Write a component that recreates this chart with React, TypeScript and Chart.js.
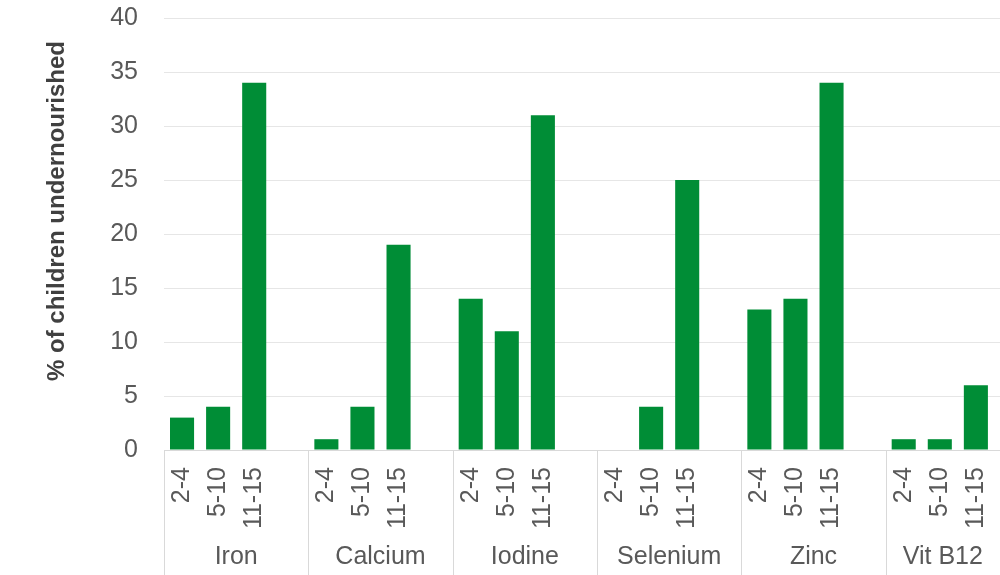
import React, { useEffect, useRef } from "react";
import { Chart, registerables } from "chart.js";

Chart.register(...registerables);

const nutrients = ["Iron", "Calcium", "Iodine", "Selenium", "Zinc", "Vit B12"];
const ageGroups = ["2-4", "5-10", "11-15"];
const iron = [3, 4, 34];
const calcium = [1, 4, 19];
const iodine = [14, 11, 31];
const selenium = [0, 4, 25];
const zinc = [13, 14, 34];
const vitB12 = [1, 1, 6];
const seriesByNutrient = [iron, calcium, iodine, selenium, zinc, vitB12];
const yAxisTitle = "% of children undernourished";
const yMin = 0;
const yMax = 40;
const yStep = 5;

const FONT = '"Liberation Sans", Arial, Helvetica, sans-serif';
const VIEW_W = 1000;
const SLOTS_PER_GROUP = ageGroups.length + 1;

const labels: string[] = [];
const values: (number | null)[] = [];
nutrients.forEach((_, g) => {
  ageGroups.forEach((a, i) => {
    labels.push(a);
    values.push(seriesByNutrient[g][i]);
  });
  labels.push("");
  values.push(null);
});

const groupPlugin = {
  id: "groupPlugin",
  afterDraw(chart: any) {
    const { ctx, chartArea, scales } = chart;
    const x = scales.x;
    const slot = x.getPixelForValue(1) - x.getPixelForValue(0);
    ctx.save();
    ctx.strokeStyle = "#d9d9d9";
    ctx.lineWidth = 1;
    nutrients.forEach((name, g) => {
      const left = x.getPixelForValue(g * SLOTS_PER_GROUP) - slot / 2;
      const lx = Math.round(left) + 0.5;
      ctx.beginPath();
      ctx.moveTo(lx, chartArea.bottom);
      ctx.lineTo(lx, chart.height);
      ctx.stroke();
      const right = Math.min(left + SLOTS_PER_GROUP * slot, VIEW_W);
      ctx.fillStyle = "#595959";
      ctx.font = `25px ${FONT}`;
      ctx.textAlign = "center";
      ctx.textBaseline = "middle";
      ctx.fillText(name, (left + right) / 2, 557);
    });
    ctx.translate(57, 211);
    ctx.rotate(-Math.PI / 2);
    ctx.fillStyle = "#404040";
    ctx.font = `bold 24px ${FONT}`;
    ctx.textAlign = "center";
    ctx.textBaseline = "middle";
    ctx.fillText(yAxisTitle, 0, 0);
    ctx.restore();
  },
};

export default function App() {
  const canvasRef = useRef<HTMLCanvasElement | null>(null);

  useEffect(() => {
    if (!canvasRef.current) return;
    const chart = new Chart(canvasRef.current, {
      type: "bar",
      data: {
        labels,
        datasets: [
          {
            data: values,
            backgroundColor: "#008D36",
            borderWidth: 0,
            barPercentage: 0.667,
            categoryPercentage: 1,
          },
        ],
      },
      options: {
        animation: false,
        responsive: true,
        maintainAspectRatio: false,
        layout: { padding: { top: 18, left: 0, right: 0, bottom: 0 } },
        plugins: {
          legend: { display: false },
          tooltip: { enabled: false },
        },
        scales: {
          x: {
            type: "category",
            offset: true,
            grid: { display: false, drawTicks: false },
            border: { display: true, color: "#d9d9d9" },
            ticks: {
              autoSkip: false,
              minRotation: 90,
              maxRotation: 90,
              padding: 17,
              color: "#595959",
              font: { family: FONT, size: 25 },
            },
            afterFit(scale: any) {
              scale.height = 125;
              scale.paddingLeft = 0;
              scale.paddingRight = 0;
            },
          },
          y: {
            min: yMin,
            max: yMax,
            grid: { color: "#e6e6e6", drawTicks: false },
            border: { display: false },
            ticks: {
              stepSize: yStep,
              padding: 26,
              color: "#595959",
              font: { family: FONT, size: 25 },
            },
            afterFit(scale: any) {
              scale.width = 164;
              scale.paddingTop = 0;
              scale.paddingBottom = 0;
            },
          },
        },
      },
      plugins: [groupPlugin],
    });
    return () => chart.destroy();
  }, []);

  return (
    <div
      style={{
        position: "fixed",
        left: 0,
        top: 0,
        width: VIEW_W,
        height: 575,
        overflow: "hidden",
        background: "#fff",
      }}
    >
      <div style={{ position: "absolute", left: 0, top: 0, width: 1030, height: 575 }}>
        <canvas ref={canvasRef} />
      </div>
    </div>
  );
}
